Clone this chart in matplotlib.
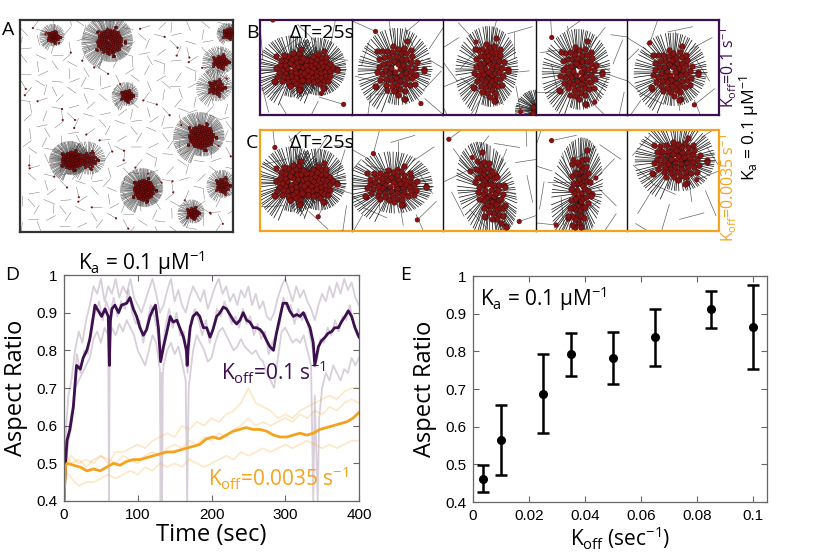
import numpy as np
import matplotlib.pyplot as plt
from matplotlib.collections import LineCollection

W, H = 831, 552
PURPLE = '#3c0f4f'
ORANGE = '#f5a31e'
BEAD = '#821414'
GOLD = np.pi * (3 - np.sqrt(5))

plt.rcParams['font.family'] = ['Open Sans', 'DejaVu Sans']
plt.rcParams['mathtext.fontset'] = 'custom'
plt.rcParams['mathtext.rm'] = 'Open Sans'
plt.rcParams['mathtext.it'] = 'Open Sans:italic'

# ---------------- panel D : aspect ratio vs time
t_fast = [0, 2, 4, 8, 12.7, 17, 22, 26, 31, 35, 37.5, 42, 46.5, 51, 55.6, 60, 61.5, 63, 65, 69,
          74, 78, 85, 89.5, 94, 98.5, 103, 107.6, 112, 116.6, 121, 124, 128, 131, 135, 139,
          144, 148, 153, 157, 162, 166, 167, 168, 171, 175, 180, 184, 189, 193.5, 198, 202,
          207, 211.5, 216, 220.5, 225, 229.6, 234, 238.6, 243, 247.7, 252, 256.7, 261, 266,
          270, 275, 279, 284, 288, 293, 297, 302, 306, 311, 315.5, 320, 324.5, 329, 333.6,
          338, 340, 345, 349, 354, 358, 363, 367, 372, 376, 381, 385.5, 390, 394.6, 400]
ar_fast = [0.40, 0.50, 0.56, 0.59, 0.65, 0.76, 0.75, 0.78, 0.80, 0.83, 0.86, 0.92, 0.905, 0.89,
           0.91, 0.89, 0.76, 0.88, 0.91, 0.92, 0.90, 0.92, 0.925, 0.94, 0.91, 0.89, 0.86, 0.84,
           0.855, 0.89, 0.91, 0.92, 0.86, 0.77, 0.81, 0.845, 0.89, 0.875, 0.88, 0.86, 0.835,
           0.80, 0.76, 0.80, 0.86, 0.89, 0.90, 0.89, 0.86, 0.86, 0.835, 0.855, 0.89, 0.90,
           0.915, 0.91, 0.895, 0.88, 0.87, 0.88, 0.90, 0.88, 0.875, 0.86, 0.86, 0.855, 0.845,
           0.825, 0.81, 0.80, 0.845, 0.89, 0.925, 0.925, 0.905, 0.89, 0.895, 0.89, 0.90, 0.88,
           0.86, 0.82, 0.76, 0.81, 0.825, 0.835, 0.845, 0.85, 0.86, 0.86, 0.875, 0.89, 0.905,
           0.89, 0.86, 0.835]

t_fast_hi = [0, 3, 6, 10, 15, 20, 25, 30, 35, 40, 45, 50, 55, 60, 65, 70, 75, 80, 85, 90, 95,
             100, 105, 110, 115, 120, 125, 130, 135, 140, 145, 150, 155, 160, 165, 170, 175,
             180, 185, 190, 195, 200, 205, 210, 215, 220, 225, 230, 235, 240, 245, 250, 255,
             260, 265, 270, 275, 280, 285, 290, 295, 300, 305, 310, 315, 320, 325, 330, 335,
             340, 345, 350, 355, 360, 365, 370, 375, 380, 385, 390, 395, 400]
ar_fast_hi = [0.40, 0.60, 0.68, 0.72, 0.80, 0.85, 0.82, 0.88, 0.92, 0.97, 0.95, 0.99, 0.93,
              0.97, 0.95, 0.99, 0.94, 0.97, 0.95, 0.99, 0.94, 0.92, 0.90, 0.93, 0.96, 0.99,
              0.95, 0.90, 0.92, 0.96, 0.99, 0.93, 0.96, 0.92, 0.90, 0.94, 0.97, 0.95, 0.93,
              0.96, 0.91, 0.94, 0.97, 0.99, 0.95, 0.97, 0.93, 0.95, 0.92, 0.96, 0.94, 0.97,
              0.92, 0.95, 0.91, 0.93, 0.89, 0.88, 0.90, 0.94, 0.97, 0.99, 0.96, 0.93, 0.97,
              0.94, 0.96, 0.93, 0.91, 0.88, 0.92, 0.95, 0.93, 0.97, 0.94, 0.98, 0.95, 0.99,
              0.96, 0.98, 0.94, 0.92]

t_fast_mid = [0, 2.5, 7.5, 12.5, 17.5, 22.5, 27.5, 32.5, 37.5, 42.5, 47.5, 52.5, 57.5, 62.5,
              67.5, 72.5, 77.5, 82.5, 87.5, 92.5, 97.5, 102.5, 107.5, 112.5, 117.5, 122.5,
              127.5, 132.5, 137.5, 142.5, 147.5, 152.5, 157.5, 162.5, 167.5, 172.5, 177.5,
              182.5, 187.5, 192.5, 197.5, 202.5, 207.5, 212.5, 217.5, 222.5, 227.5, 232.5,
              237.5, 242.5, 247.5, 252.5, 257.5, 262.5, 267.5, 272.5, 277.5, 282.5, 287.5,
              292.5, 297.5, 302.5, 307.5, 312.5, 317.5, 322.5, 327.5, 332.5, 337.5, 342.5,
              347.5, 352.5, 357.5, 362.5, 367.5, 372.5, 377.5, 382.5, 387.5, 392.5, 397.5]
ar_fast_mid = [0.40, 0.52, 0.60, 0.66, 0.79, 0.74, 0.80, 0.79, 0.88, 0.90, 0.93, 0.88, 0.93,
               0.90, 0.94, 0.89, 0.93, 0.91, 0.96, 0.90, 0.87, 0.88, 0.82, 0.87, 0.92, 0.89,
               0.84, 0.79, 0.86, 0.91, 0.86, 0.90, 0.84, 0.85, 0.74, 0.88, 0.91, 0.88, 0.84,
               0.88, 0.82, 0.86, 0.91, 0.89, 0.93, 0.90, 0.87, 0.89, 0.86, 0.91, 0.87, 0.89,
               0.84, 0.87, 0.83, 0.85, 0.79, 0.82, 0.84, 0.87, 0.94, 0.91, 0.92, 0.87, 0.91,
               0.88, 0.90, 0.85, 0.80, 0.77, 0.83, 0.82, 0.86, 0.84, 0.88, 0.85, 0.89, 0.88,
               0.92, 0.87, 0.84]

t_fast_lo = [0, 3, 6, 10, 15, 20, 25, 30, 35, 40, 45, 50, 55, 60, 61, 62, 65, 70, 75, 80, 85,
             90, 95, 100, 105, 110, 115, 120, 125, 130, 131, 132, 133, 134, 135, 140, 145, 150,
             155, 160, 165, 167, 169, 175, 180, 185, 190, 195, 200, 205, 210, 215, 220, 225,
             230, 235, 240, 245, 250, 255, 260, 265, 270, 275, 280, 285, 290, 295, 300, 305,
             310, 315, 320, 325, 330, 335, 338, 340, 344, 346, 350, 355, 360, 365, 370, 375,
             380, 385, 390, 395, 400]
ar_fast_lo = [0.40, 0.50, 0.56, 0.60, 0.70, 0.72, 0.74, 0.76, 0.78, 0.83, 0.85, 0.82, 0.86,
              0.84, 0.40, 0.83, 0.86, 0.84, 0.87, 0.85, 0.88, 0.86, 0.84, 0.80, 0.78, 0.76,
              0.80, 0.84, 0.82, 0.75, 0.40, 0.74, 0.40, 0.73, 0.76, 0.80, 0.82, 0.79, 0.81,
              0.77, 0.72, 0.40, 0.70, 0.80, 0.84, 0.82, 0.80, 0.77, 0.78, 0.82, 0.85, 0.86,
              0.84, 0.82, 0.80, 0.81, 0.83, 0.81, 0.80, 0.79, 0.80, 0.78, 0.77, 0.74, 0.72,
              0.70, 0.78, 0.85, 0.86, 0.84, 0.82, 0.83, 0.82, 0.84, 0.80, 0.76, 0.40, 0.68,
              0.40, 0.62, 0.70, 0.74, 0.72, 0.76, 0.74, 0.72, 0.75, 0.74, 0.78, 0.76, 0.78]

t_slow = [0, 2, 4, 13, 22, 31, 40, 49, 58, 67, 76, 85, 94, 103, 112, 121, 130, 139, 148, 157,
          166, 175, 184, 193, 202, 211, 220, 229, 238, 247, 256, 266, 275, 284, 293, 302, 311,
          320, 329, 338, 347, 356, 365, 374, 383, 392, 400]
ar_slow = [0.40, 0.49, 0.50, 0.495, 0.49, 0.48, 0.485, 0.48, 0.49, 0.50, 0.495, 0.505, 0.51,
           0.51, 0.515, 0.52, 0.525, 0.53, 0.53, 0.535, 0.54, 0.545, 0.55, 0.565, 0.57, 0.565,
           0.575, 0.585, 0.59, 0.595, 0.59, 0.59, 0.585, 0.575, 0.57, 0.57, 0.575, 0.58, 0.575,
           0.58, 0.59, 0.595, 0.60, 0.605, 0.61, 0.62, 0.635]

t_slow_f = [0, 3, 10, 20, 30, 40, 50, 60, 70, 80, 90, 100, 110, 120, 130, 140, 150, 160, 170,
            180, 190, 200, 210, 220, 230, 240, 250, 260, 270, 280, 290, 300, 310, 320, 330,
            340, 350, 360, 370, 380, 390, 400]
ar_slow_up = [0.40, 0.52, 0.50, 0.51, 0.49, 0.51, 0.52, 0.50, 0.53, 0.53, 0.54, 0.55, 0.54,
              0.56, 0.57, 0.58, 0.57, 0.60, 0.59, 0.61, 0.60, 0.62, 0.61, 0.63, 0.64, 0.66,
              0.70, 0.66, 0.65, 0.64, 0.62, 0.63, 0.62, 0.64, 0.65, 0.66, 0.67, 0.68, 0.67,
              0.69, 0.70, 0.70]
ar_slow_mid = [0.40, 0.50, 0.52, 0.50, 0.51, 0.50, 0.52, 0.51, 0.50, 0.52, 0.51, 0.50, 0.52,
               0.53, 0.52, 0.54, 0.55, 0.54, 0.56, 0.55, 0.57, 0.56, 0.58, 0.57, 0.59, 0.60,
               0.62, 0.60, 0.61, 0.60, 0.61, 0.62, 0.61, 0.63, 0.62, 0.64, 0.63, 0.65, 0.64,
               0.66, 0.67, 0.66]
ar_slow_lo = [0.40, 0.48, 0.46, 0.44, 0.45, 0.45, 0.46, 0.47, 0.46, 0.47, 0.48, 0.47, 0.49,
              0.48, 0.50, 0.49, 0.50, 0.49, 0.51, 0.50, 0.49, 0.50, 0.51, 0.52, 0.51, 0.53,
              0.52, 0.53, 0.54, 0.53, 0.54, 0.55, 0.54, 0.55, 0.56, 0.55, 0.54, 0.55, 0.54,
              0.55, 0.56, 0.56]

# ---------------- panel E : aspect ratio vs koff
koff = [0.0035, 0.01, 0.025, 0.035, 0.05, 0.065, 0.085, 0.1]
ar_mean = [0.462, 0.565, 0.688, 0.792, 0.782, 0.838, 0.912, 0.865]
ar_low = [0.426, 0.473, 0.582, 0.735, 0.712, 0.762, 0.862, 0.752]
ar_high = [0.498, 0.657, 0.793, 0.850, 0.852, 0.913, 0.961, 0.977]

# ---------------- panel A : asters in the full box (fractions of box)
a_cx = [0.156, 0.42, 0.977, 0.94, 0.92, 0.50, 0.85, 0.24, 0.32, 0.58, 0.95, 0.81]
a_cy = [0.078, 0.10, 0.063, 0.196, 0.317, 0.356, 0.55, 0.66, 0.66, 0.80, 0.78, 0.91]
a_rx = [0.025, 0.06, 0.022, 0.035, 0.035, 0.025, 0.06, 0.045, 0.04, 0.048, 0.03, 0.025]
a_ry = [0.025, 0.06, 0.022, 0.03, 0.035, 0.025, 0.055, 0.04, 0.038, 0.048, 0.035, 0.025]
a_len = [0.045, 0.08, 0.035, 0.055, 0.065, 0.05, 0.08, 0.065, 0.065, 0.07, 0.05, 0.05]

# ---------------- panels B, C : one aster per snapshot (fractions of snapshot)
b_panel = [0, 0, 1, 2, 3, 4, 2]
b_cx = [0.36, 0.63, 0.50, 0.50, 0.47, 0.50, 1.02]
b_cy = [0.52, 0.52, 0.52, 0.52, 0.55, 0.55, 0.95]
b_rx = [0.20, 0.17, 0.24, 0.17, 0.21, 0.23, 0.05]
b_ry = [0.19, 0.17, 0.27, 0.29, 0.29, 0.25, 0.05]
b_ang = [0, 0, 0, 0, 0, 0, 0]

c_panel = [0, 0, 1, 2, 3, 4]
c_cx = [0.36, 0.63, 0.45, 0.50, 0.48, 0.55]
c_cy = [0.52, 0.52, 0.55, 0.60, 0.62, 0.30]
c_rx = [0.20, 0.17, 0.30, 0.14, 0.11, 0.27]
c_ry = [0.19, 0.17, 0.17, 0.34, 0.38, 0.20]
c_ang = [0, 0, 0, -20, 5, 0]

fig = plt.figure(figsize=(W / 100, H / 100), dpi=100)


def px_axes(x0, y0, x1, y1):
    return fig.add_axes([x0 / W, 1 - y1 / H, (x1 - x0) / W, (y1 - y0) / H])


def frac(v):
    return v - np.floor(v)


def draw_aster(ax, cx, cy, rx, ry, length, n_spk, n_bead, ms, ang=0, lw=0.5, col='#222222'):
    c, s = np.cos(np.radians(ang)), np.sin(np.radians(ang))
    k = np.arange(n_spk)
    phi = k * GOLD
    lk = length * (0.45 + 0.55 * frac(k * 0.618034 + 0.3))
    ux, uy = np.cos(phi), np.sin(phi)
    x0, y0 = 0.2 * rx * ux, 0.2 * ry * uy
    x1, y1 = (rx + lk) * ux, (ry + lk) * uy
    segs = []
    for a, b, e, f in zip(x0, y0, x1, y1):
        segs.append([(cx + a * c - b * s, cy + a * s + b * c),
                     (cx + e * c - f * s, cy + e * s + f * c)])
    ax.add_collection(LineCollection(segs, colors=col, linewidths=lw, zorder=2))
    j = np.arange(n_bead)
    r = np.sqrt((j + 0.5) / n_bead)
    th = j * GOLD
    bx, by = rx * r * np.cos(th), ry * r * np.sin(th)
    # a few beads sit on the rim
    rim = np.arange(0, n_spk, 11)
    bx = np.concatenate([bx, 1.2 * rx * ux[rim]])
    by = np.concatenate([by, 1.2 * ry * uy[rim]])
    ax.scatter(cx + bx * c - by * s, cy + bx * s + by * c, s=ms, color=BEAD,
               edgecolors='#3a0000', linewidths=0.3, zorder=3)


def draw_free(ax, n, length, lw, ms, seed_off=0.0, bead_every=4):
    i = np.arange(n)
    xs = frac(seed_off + 0.7548777 * i)
    ys = frac(seed_off * 0.5 + 0.5698403 * i)
    th = frac(i * 0.618034 + seed_off) * np.pi
    segs = [[(x - 0.5 * length * np.cos(t), y - 0.5 * length * np.sin(t)),
             (x + 0.5 * length * np.cos(t), y + 0.5 * length * np.sin(t))]
            for x, y, t in zip(xs, ys, th)]
    ax.add_collection(LineCollection(segs, colors='#666666', linewidths=lw, zorder=1))
    sel = i[::bead_every]
    ax.scatter(xs[sel] + 0.5 * length * np.cos(th[sel]), ys[sel] + 0.5 * length * np.sin(th[sel]),
               s=ms, color=BEAD, edgecolors='none', zorder=3)


def sim_axes(ax):
    ax.set_xlim(0, 1)
    ax.set_ylim(1, 0)
    ax.set_xticks([])
    ax.set_yticks([])


# ---------------- panel A
axA = px_axes(20, 20, 233, 232)
sim_axes(axA)
draw_free(axA, 300, 0.05, 0.3, 2.5, 0.1, 5)
for cx, cy, rx, ry, ln in zip(a_cx, a_cy, a_rx, a_ry, a_len):
    big = rx > 0.04
    draw_aster(axA, cx, cy, rx, ry, ln, 130 if big else 60, 110 if big else 35, 3.5,
               lw=0.28, col='#2a2a2a')
for sp in axA.spines.values():
    sp.set_color('#333333')
    sp.set_linewidth(1.6)

# ---------------- panels B and C
edges = [260, 352, 443, 536, 627, 719]
rows = [(20, 115, b_panel, b_cx, b_cy, b_rx, b_ry, b_ang, PURPLE),
        (130, 231, c_panel, c_cx, c_cy, c_rx, c_ry, c_ang, ORANGE)]
for r, (y0, y1, pan, cxs, cys, rxs, rys, angs, col) in enumerate(rows):
    for p in range(5):
        ax = px_axes(edges[p], y0, edges[p + 1], y1)
        sim_axes(ax)
        draw_free(ax, 16, 0.28, 0.5, 14, 0.13 * p + 0.37 * r, 5)
        for q, cx, cy, rx, ry, ag in zip(pan, cxs, cys, rxs, rys, angs):
            if q == p:
                n_b = int(45 * (rx * ry) / 0.05) + 12
                draw_aster(ax, cx, cy, rx, ry, 0.22, 80, min(n_b, 55), 16, ag, 0.55, '#1a1a1a')
        for name, sp in ax.spines.items():
            sp.set_color(col)
            sp.set_linewidth(1.6)
        if p > 0:
            ax.spines['left'].set_color('#111111')
            ax.spines['left'].set_linewidth(1.0)
        if p < 4:
            ax.spines['right'].set_visible(False)
    fig.text(290 / W, 1 - (y0 + 13) / H, 'ΔT=25s', fontsize=14, va='center', ha='left')

fig.text(728 / W, 1 - 68 / H, r'$\mathrm{K_{off}}$=0.1 s$^{-1}$', rotation=90,
         color=PURPLE, fontsize=11.5, ha='center', va='center')
fig.text(749 / W, 1 - 128 / H, r'K$_\mathrm{a}$ = 0.1 μM$^{-1}$', rotation=90,
         color='black', fontsize=12.5, ha='center', va='center')
fig.text(728 / W, 1 - 188 / H, r'$\mathrm{K_{off}}$=0.0035 s$^{-1}$', rotation=90,
         color=ORANGE, fontsize=11.5, ha='center', va='center')


def style_plot(ax):
    for sp in ax.spines.values():
        sp.set_color('#666666')
        sp.set_linewidth(0.9)
    ax.tick_params(direction='in', top=True, right=True, length=4, width=0.8,
                   color='#666666', labelsize=11, pad=5)
    ax.set_ylim(0.4, 1.0)
    ax.set_yticks([0.4, 0.5, 0.6, 0.7, 0.8, 0.9, 1.0])
    ax.set_yticklabels(['0.4', '0.5', '0.6', '0.7', '0.8', '0.9', '1'])
    for lab in ax.get_xticklabels() + ax.get_yticklabels():
        lab.set_fontfamily('Liberation Sans')
    ax.set_ylabel('Aspect Ratio', fontsize=17, labelpad=6)


# ---------------- panel D
axD = px_axes(64, 275, 359, 501)
for tt, vv in [(t_fast_hi, ar_fast_hi), (t_fast_mid, ar_fast_mid), (t_fast_lo, ar_fast_lo)]:
    axD.plot(tt, vv, color=PURPLE, alpha=0.2, lw=1.3)
for vv in [ar_slow_up, ar_slow_mid, ar_slow_lo]:
    axD.plot(t_slow_f, vv, color=ORANGE, alpha=0.25, lw=1.2)
axD.plot(t_fast, ar_fast, color=PURPLE, lw=2.0)
axD.plot(t_slow, ar_slow, color=ORANGE, lw=2.0)
axD.set_xlim(0, 400)
axD.set_xticks([0, 100, 200, 300, 400])
axD.set_xticklabels(['0', '100', '200', '300', '400'])
style_plot(axD)
axD.set_xlabel('Time (sec)', fontsize=17, labelpad=1)
axD.text(213, 0.741, r'$\mathrm{K_{off}}$=0.1 s$^{-1}$', color=PURPLE, fontsize=15,
         va='center', ha='left')
axD.text(195, 0.46, r'$\mathrm{K_{off}}$=0.0035 s$^{-1}$', color=ORANGE, fontsize=15,
         va='center', ha='left')
fig.text(78 / W, 1 - 263 / H, r'K$_\mathrm{a}$ = 0.1 μM$^{-1}$', fontsize=15, va='center')

# ---------------- panel E
axE = px_axes(473, 276, 767, 502)
yerr = [np.array(ar_mean) - np.array(ar_low), np.array(ar_high) - np.array(ar_mean)]
axE.errorbar(koff, ar_mean, yerr=yerr, fmt='o', color='black', ms=5.5, lw=1.8,
             capsize=4, capthick=1.8)
axE.set_xlim(0, 0.105)
axE.set_xticks([0, 0.02, 0.04, 0.06, 0.08, 0.1])
axE.set_xticklabels(['0', '0.02', '0.04', '0.06', '0.08', '0.1'])
style_plot(axE)
axE.set_xlabel(r'$\mathrm{K_{off}}$ (sec$^{-1}$)', fontsize=15, labelpad=1)
axE.text(0.0025, 0.94, r'K$_\mathrm{a}$ = 0.1 μM$^{-1}$', fontsize=15, va='center')

for lbl, x, y in [('A', 2, 30), ('B', 246, 33), ('C', 246, 143), ('D', 5, 275), ('E', 400, 275)]:
    fig.text(x / W, 1 - y / H, lbl, fontsize=14, va='center', ha='left')

fig.savefig('out.png', dpi=100)
